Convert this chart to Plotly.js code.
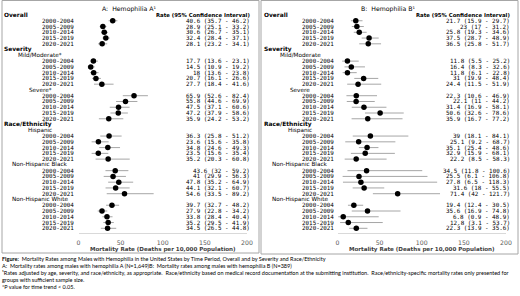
<!DOCTYPE html>
<html>
<head>
<meta charset="utf-8">
<script src="https://cdn.plot.ly/plotly-3.0.1.min.js"></script>
<style>html,body{margin:0;padding:0;background:#fff;}#chart{width:520px;height:296px;}</style>
</head>
<body>
<div id="chart"></div>
<script>
// ---- data ----
const periods = ['2000-2004', '2005-2009', '2010-2014', '2015-2019', '2020-2021'];
const sectionNames = ['Overall', 'Severity', 'Race/Ethnicity'];
const groupsA = ['Mild/Moderate*', 'Severe*', 'Hispanic', 'Non-Hispanic Black', 'Non-Hispanic White'];
const groupsB = ['Mild/Moderate', 'Severe', 'Hispanic', 'Non-Hispanic Black', 'Non-Hispanic White'];
const groupSection = [1, 1, 2, 2, 2];
// order: Overall, Mild/Moderate, Severe, Hispanic, NH Black, NH White (5 periods each)
const aRate = [40.6, 28.9, 30.6, 32.4, 28.1, 17.7, 14.5, 18, 20.7, 27.7, 65.9, 55.8, 47.5, 47.2, 35.9,
  36.3, 23.6, 34.8, 23.5, 35.2, 43.6, 41, 47.8, 44.1, 54.6, 39.7, 27.9, 33.8, 35.2, 34.5];
const aLow = [35.7, 25.1, 26.7, 28.4, 23.2, 13.6, 10.9, 13.6, 16.1, 18.4, 52.6, 44.6, 37.1, 37.9, 24.2,
  25.8, 15.6, 24.6, 15.6, 20.3, 32, 29.9, 35.2, 32.1, 33.5, 32.7, 22.8, 28.4, 29.5, 26.5];
const aHigh = [46.2, 33.2, 35.1, 37.1, 34.1, 23.1, 19.2, 23.8, 26.6, 41.6, 82.4, 69.9, 60.6, 58.6, 53.2,
  51.2, 35.8, 49.3, 35.4, 60.8, 59.2, 56.3, 64.9, 60.7, 89.2, 48.2, 34.2, 40.4, 41.9, 44.8];
const bRate = [21.7, 23, 25.8, 37.5, 36.5, 11.8, 16.4, 11.8, 31, 24.4, 22.3, 22.1, 31.4, 50.6, 35.9,
  39, 25.1, 35.1, 32.9, 22.2, 34.5, 25.5, 27.8, 31.6, 71.4, 19.4, 35.6, 6.8, 12.8, 22.3];
const bLow = [15.9, 17, 19.3, 28.7, 25.8, 5.5, 8.3, 6.1, 19.9, 11.5, 10.6, 11, 16.9, 32.6, 16.7,
  18.1, 9.2, 25.4, 15.9, 8.5, 11.8, 6.1, 6.5, 18, 42, 12.4, 16.9, 0.9, 3.1, 13.9];
const bHigh = [29.7, 31.2, 34.6, 48.9, 51.7, 25.2, 32.6, 22.8, 48.4, 51.9, 46.9, 44.2, 58.1, 78.6, 77.2,
  84.1, 68.7, 48.6, 68.1, 58.3, 100.6, 106.8, 118.3, 55.5, 121.7, 30.5, 74.8, 48.9, 53.7, 35.6];
const xTicks = [0, 50, 100, 150, 200];
const titleA = 'A:  Hemophilia A¹';
const titleB = 'B:  Hemophilia B¹';
const rateHeader = 'Rate (95% Confidence Interval)';
const xTitle = 'Mortality Rate (Deaths per 10,000 Population)';
const footnotes = [
  '<b>Figure:</b>  Mortality Rates among Males with Hemophilia in the United States by Time Period, Overall and by Severity and Race/Ethnicity',
  'A:  Mortality rates among males with hemophilia A (N=1,649)B:  Mortality rates among males with hemophilia B (N=389)',
  '¹Rates adjusted by age, severity, and race/ethnicity, as appropriate.  Race/ethnicity based on medical record documentation at the submitting institution.  Race/ethnicity-specific mortality rates only presented for',
  'groups with sufficient sample size.',
  '*P value for time trend &lt; 0.05.'
];

// ---- layout helpers ----
const W = 520, H = 296;
const SANS = 'DejaVu Sans', MONO = 'DejaVu Sans Mono', FOOT = 'Lato';
const px = v => v / W;
const py = v => 1 - v / H;
const ROW_FONT = 5.9;

// font size that makes a text span a target width (measured with the real font)
const ctx = document.createElement('canvas').getContext('2d');
function fitSize(text, family, weight, target) {
  const plain = text.replace(/<[^>]+>/g, '').replace(/&lt;/g, '<');
  ctx.font = weight + ' 20px "' + family + '"';
  return 20 * target / ctx.measureText(plain).width;
}

function buildRows(groups) {
  const rows = [], est = [];
  let r = 1;
  rows.push({kind: 'sec', text: sectionNames[0], r: r++});
  periods.forEach(p => { rows.push({kind: 'per', text: p, r}); est.push(r++); });
  for (let s = 1; s < sectionNames.length; s++) {
    rows.push({kind: 'sec', text: sectionNames[s], r: r++});
    groups.forEach((g, gi) => {
      if (groupSection[gi] !== s) return;
      rows.push({kind: 'grp', text: g, r: r++});
      periods.forEach(p => { rows.push({kind: 'per', text: p, r}); est.push(r++); });
    });
  }
  return {rows, est, n: r - 1};
}

const annotations = [];
const traces = [];
const shapes = [];
const ann = (o) => annotations.push(Object.assign({showarrow: false, borderpad: 0}, o));

const headerSize = Math.min(ROW_FONT, fitSize(rateHeader, SANS, 'bold', 94));
const titleSize = Math.min(6.2, fitSize(titleA, SANS, 'normal', 56));

function panel(x0, groups, rate, low, high, title, xa, ya) {
  const {rows, est} = buildRows(groups);
  traces.push({
    type: 'scatter', mode: 'markers', x: rate, y: est, xaxis: xa, yaxis: ya,
    marker: {color: '#000', size: 5.5},
    error_x: {type: 'data', symmetric: false,
      array: rate.map((v, i) => high[i] - v), arrayminus: rate.map((v, i) => v - low[i]),
      color: '#a6a6a6', thickness: 1, width: 0},
    hoverinfo: 'skip', showlegend: false
  });
  const yref = ya;
  rows.forEach(o => {
    if (o.kind === 'sec') {
      ann({xref: 'paper', yref, x: px(x0 + 3), y: o.r, xanchor: 'left', yanchor: 'middle',
        text: '<b>' + o.text + '</b>', font: {family: SANS, size: ROW_FONT, color: '#000'}});
    } else if (o.kind === 'grp') {
      ann({xref: 'paper', yref, x: px(x0 + 40), y: o.r, xanchor: 'center', yanchor: 'middle',
        text: o.text, font: {family: SANS, size: 5.7, color: '#000'}});
    } else {
      ann({xref: 'paper', yref, x: px(x0 + 74.5), y: o.r, xanchor: 'right', yanchor: 'middle',
        text: o.text, font: {family: MONO, size: ROW_FONT, color: '#000'}});
    }
  });
  est.forEach((r, i) => {
    ann({xref: 'paper', yref, x: px(x0 + 250.5), y: r, xanchor: 'right', yanchor: 'middle',
      text: rate[i] + ' (' + low[i] + ' - ' + high[i] + ')',
      font: {family: MONO, size: ROW_FONT, color: '#000'}});
  });
  ann({xref: 'paper', yref, x: px(x0 + 251), y: 1, xanchor: 'right', yanchor: 'middle',
    text: '<b>' + rateHeader + '</b>', font: {family: SANS, size: headerSize, color: '#000'}});
  ann({xref: 'paper', yref: 'paper', x: px(x0 + 128.5), y: py(8.5), xanchor: 'center', yanchor: 'middle',
    text: title, font: {family: SANS, size: titleSize, color: '#000'}});
}

panel(0, groupsA, aRate, aLow, aHigh, titleA, 'x', 'y');
panel(260, groupsB, bRate, bLow, bHigh, titleB, 'x2', 'y2');

shapes.push({type: 'rect', xref: 'paper', yref: 'paper', x0: px(2), x1: px(259), y0: py(253), y1: py(0.5),
  line: {color: '#a6a6a6', width: 1}});
shapes.push({type: 'rect', xref: 'paper', yref: 'paper', x0: px(261), x1: px(518), y0: py(254), y1: py(0.5),
  line: {color: '#a6a6a6', width: 1}});

const footSize = Math.min(6, fitSize(footnotes[2], FOOT, 'normal', 508));
const footY = [258.5, 265.6, 272.7, 279.7, 286.7];
footnotes.forEach((t, i) => {
  ann({xref: 'paper', yref: 'paper', x: px(1), y: py(footY[i]), xanchor: 'left', yanchor: 'middle',
    text: t, font: {family: FOOT, size: footSize, color: '#000'}});
});

// y mapping: row 1 -> 15px, row 38 -> 228.3px
const rowPx = (228.3 - 15) / 37;
const yBottomPx = 233, yTopPx = 10;
const yr = [38 + (yBottomPx - 228.3) / rowPx, 1 - (15 - yTopPx) / rowPx];
const yDomain = [1 - yBottomPx / H, 1 - yTopPx / H];

const xTitleSize = Math.min(7.5, fitSize(xTitle, SANS, 'bold', 146));

function xaxis(d, anchor) {
  return {
    domain: d, anchor, range: [0, 200], tickmode: 'array', tickvals: xTicks,
    showgrid: false, zeroline: false, showline: true, linecolor: '#d9d9d9', linewidth: 1,
    ticks: 'outside', ticklen: 4, tickcolor: 'rgba(0,0,0,0)',
    tickfont: {family: SANS, size: 6.2, color: '#595959'},
    title: {text: '<b>' + xTitle + '</b>', font: {family: SANS, size: xTitleSize, color: '#404040'}, standoff: 0},
    fixedrange: true
  };
}
function yaxis(anchor) {
  return {domain: yDomain, anchor, range: yr, showgrid: false, zeroline: false, showline: false,
    showticklabels: false, ticks: '', fixedrange: true};
}

const layout = {
  width: W, height: H, margin: {l: 0, r: 0, t: 0, b: 0, pad: 0},
  paper_bgcolor: '#fff', plot_bgcolor: 'rgba(0,0,0,0)',
  xaxis: xaxis([78.5 / W, 247 / W], 'y'),
  xaxis2: xaxis([337.5 / W, 506 / W], 'y2'),
  yaxis: yaxis('x'),
  yaxis2: yaxis('x2'),
  annotations, shapes, showlegend: false
};

Plotly.newPlot('chart', traces, layout, {displayModeBar: false, staticPlot: true});
</script>
</body>
</html>
